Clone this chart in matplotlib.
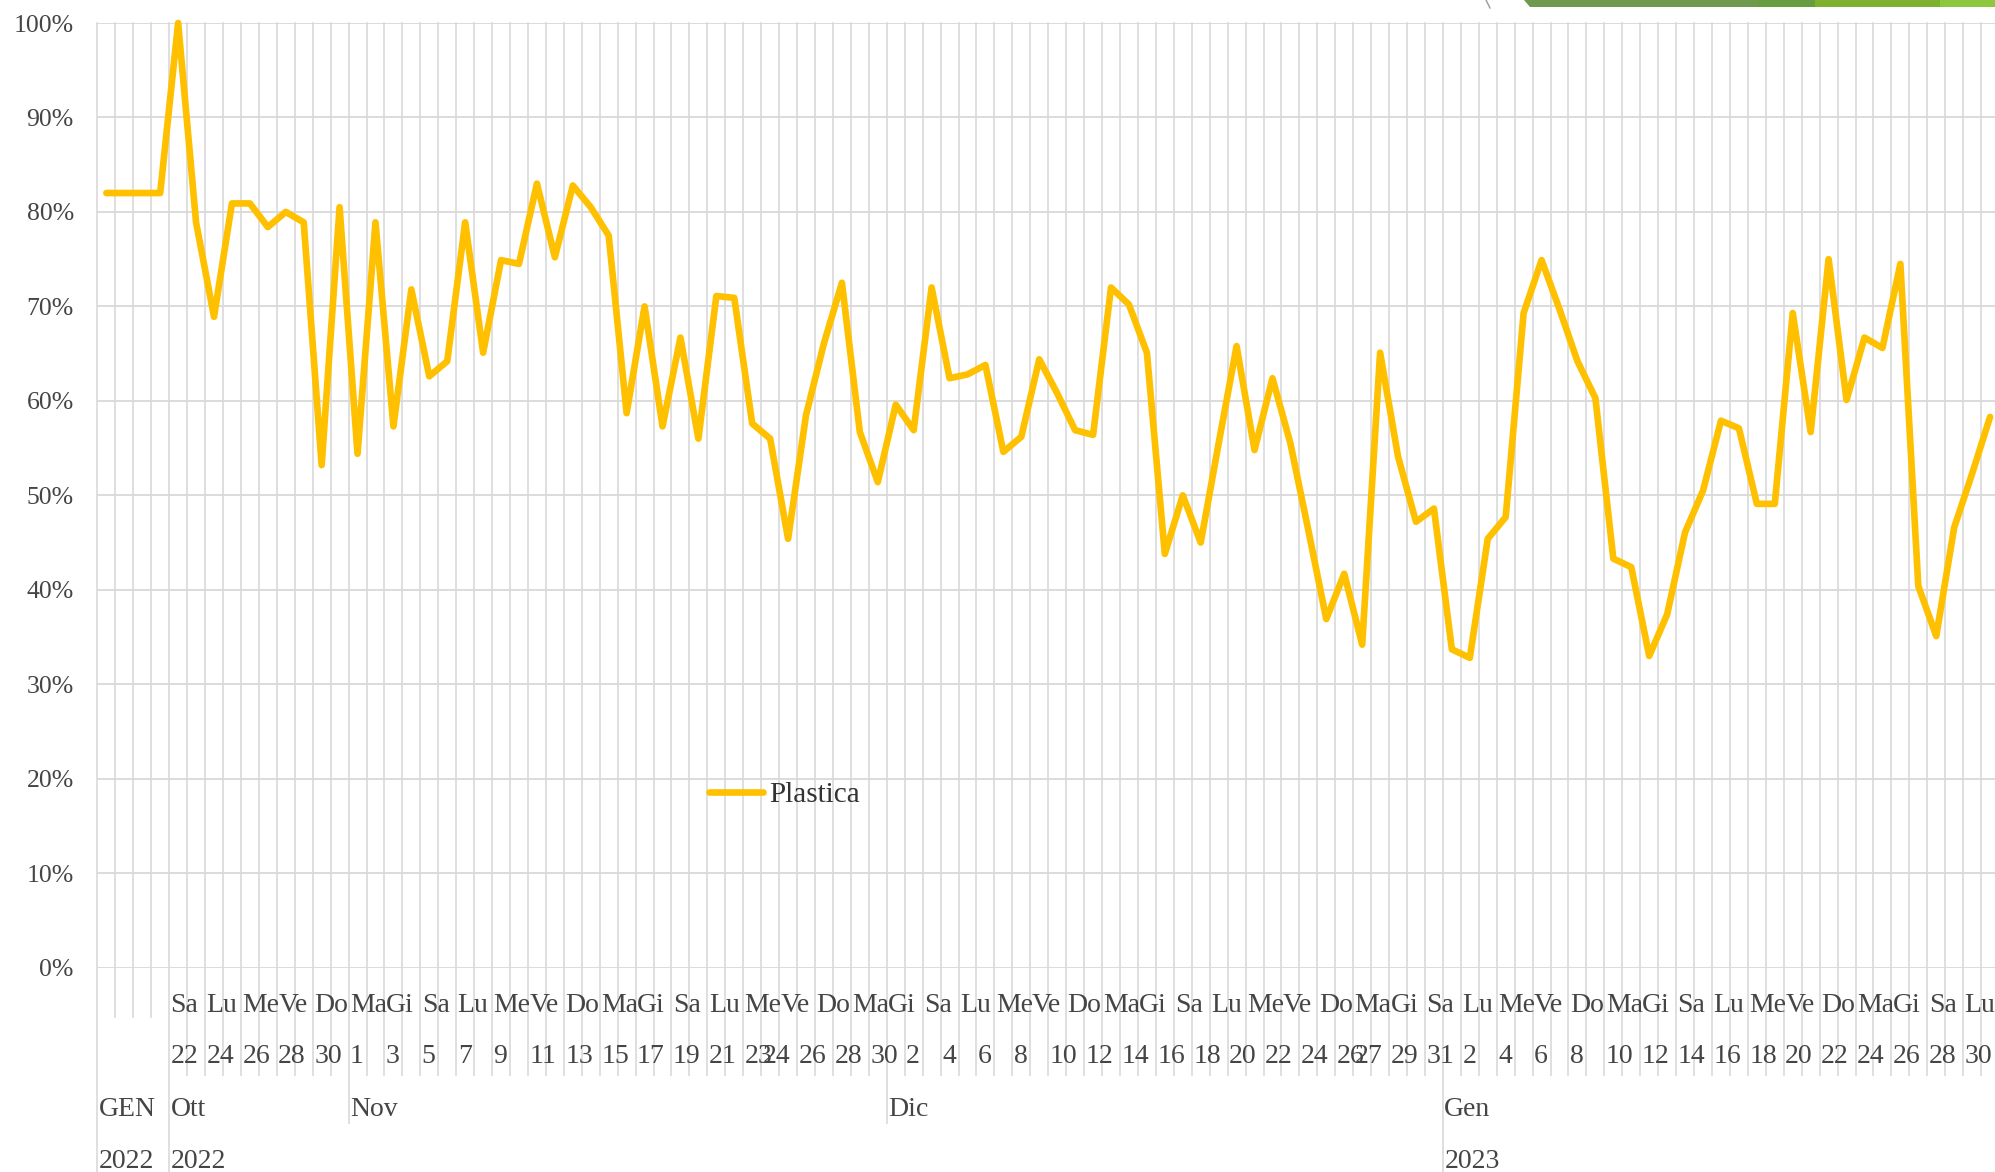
import numpy as np
import matplotlib
matplotlib.use("Agg")
import matplotlib.pyplot as plt
from matplotlib import transforms
from matplotlib.ticker import PercentFormatter
from matplotlib.patches import Polygon

# ---------------- data ----------------
series_name = "Plastica"
# one value per day (category index 0..105), in percent
plastica = [
    82.0, 82.0, 82.0, 82.0,                                   # GEN 2022
    100.0, 78.9, 68.9, 80.9, 80.9, 78.4, 80.0, 78.9, 53.2, 80.5,  # Ott 22-31
    54.4, 78.9, 57.3, 71.8, 62.6, 64.2, 78.9, 65.1, 74.9, 74.5,   # Nov 1-10
    83.0, 75.2, 82.8, 80.5, 77.5, 58.7, 70.0, 57.3, 66.7, 56.0,   # Nov 11-20
    71.1, 70.9, 57.6, 56.0, 45.4, 58.5, 66.1, 72.5, 56.7, 51.4,   # Nov 21-30
    59.6, 56.9, 72.0, 62.4, 62.8, 63.8, 54.6, 56.2, 64.4, 60.8,   # Dic 1-10
    56.9, 56.4, 72.0, 70.2, 65.1, 43.8, 50.0, 45.0, 55.5, 65.8,   # Dic 11-20
    54.8, 62.4, 55.5, 46.3, 36.9, 41.7, 34.2, 65.1, 54.1, 47.2,   # Dic 21-30
    48.6,                                                         # Dic 31
    33.7, 32.8, 45.4, 47.7, 69.3, 74.9, 69.7, 64.2, 60.3, 43.3,   # Gen 1-10
    42.4, 33.0, 37.4, 46.1, 50.5, 57.9, 57.1, 49.1, 49.1, 69.3,   # Gen 11-20
    56.7, 75.0, 60.1, 66.7, 65.6, 74.5, 40.4, 35.1, 46.6, 52.3,   # Gen 21-30
    58.3,                                                         # Gen 31
]

weekday_cats = list(range(4, 105, 2))
weekday_labels = [
    "Sa", "Lu", "Me", "Ve", "Do", "Ma", "Gi", "Sa", "Lu", "Me", "Ve", "Do", "Ma", "Gi",
    "Sa", "Lu", "Me", "Ve", "Do", "Ma", "Gi", "Sa", "Lu", "Me", "Ve", "Do", "Ma", "Gi",
    "Sa", "Lu", "Me", "Ve", "Do", "Ma", "Gi", "Sa", "Lu", "Me", "Ve", "Do", "Ma", "Gi",
    "Sa", "Lu", "Me", "Ve", "Do", "Ma", "Gi", "Sa", "Lu",
]

day_cats = (list(range(4, 37, 2)) + list(range(37, 70, 2)) +
            list(range(70, 75, 2)) + list(range(76, 105, 2)))
day_labels = [
    "22", "24", "26", "28", "30", "1", "3", "5", "7", "9", "11", "13", "15", "17", "19", "21", "23",
    "24", "26", "28", "30", "2", "4", "6", "8", "10", "12", "14", "16", "18", "20", "22", "24", "26",
    "27", "29", "31",
    "2", "4", "6", "8", "10", "12", "14", "16", "18", "20", "22", "24", "26", "28", "30",
]

month_starts = [0, 4, 14, 44, 75]
month_labels = ["GEN", "Ott", "Nov", "Dic", "Gen"]
year_starts = [0, 4, 75]
year_labels = ["2022", "2022", "2023"]

# ---------------- layout ----------------
W, H = 1995, 1172
FONT = "Liberation Serif"
TXT = "#454545"
GRID = "#D9D9D9"
LINE = "#FFC000"

fig = plt.figure(figsize=(W / 100, H / 100), dpi=100)
fig.patch.set_facecolor("white")

cat_w = 17.94
x_left = 97.4
y_top, y_zero = 23.0, 967.7
xmax = (W - x_left) / cat_w - 0.5
ax = fig.add_axes([x_left / W, 1 - y_zero / H, 1 - x_left / W, (y_zero - y_top) / H])
ax.set_xlim(-0.5, xmax)
ax.set_ylim(0, 1)
for s in ax.spines.values():
    s.set_visible(False)

# horizontal grid + y labels
ax.set_yticks(np.arange(0, 1.001, 0.1))
ax.yaxis.set_major_formatter(PercentFormatter(1.0, decimals=0))
ax.tick_params(axis="y", length=0, pad=17, labelsize=18.5, labelcolor=TXT)
for lab in ax.get_yticklabels():
    lab.set_fontfamily(FONT)
ax.yaxis.grid(True, color=GRID, lw=1.3, zorder=0)
ax.set_xticks([])

# vertical grid lines (category boundaries), extended into label area
trans = transforms.blended_transform_factory(ax.transData, fig.transFigure)
n = len(plastica)
for i in range(n):
    b = i - 0.5
    if i in (0, 4, 75):
        yend = H
    elif i in (14, 44):
        yend = 1123
    elif i in (1, 2, 3):
        yend = 1017
    else:
        yend = 1075
    ax.plot([b, b], [1 - y_top / H, 1 - yend / H], transform=trans, color=GRID,
            lw=1.2, clip_on=False, zorder=0.5)

# data line
cats = np.arange(n)
ax.plot(cats, np.array(plastica) / 100, color=LINE, lw=4.8, solid_joinstyle="round",
        solid_capstyle="round", label=series_name, zorder=3, clip_on=False)

# category labels (left aligned at category start)
def put(cat_list, labels, ybase, size=20):
    for c, t in zip(cat_list, labels):
        ax.text(c - 0.5 + 0.08, 1 - ybase / H, t, transform=trans, ha="left", va="baseline",
                fontsize=size, color=TXT, family=FONT, clip_on=False)

put(weekday_cats, weekday_labels, 1012)
put(day_cats, day_labels, 1063)
put(month_starts, month_labels, 1116)
put(year_starts, year_labels, 1168)

# legend
leg = fig.legend(loc="center left", bbox_to_anchor=(709 / W, 1 - 795 / H), frameon=False,
                 prop={"family": FONT, "size": 21}, handlelength=1.85, handletextpad=0.2,
                 borderpad=0, borderaxespad=0, labelcolor="#333333")

# slide decoration at top right
def band(x0, x1, color, slant=3):
    fig.add_artist(Polygon([[(x0 - slant) / W, 1.0], [x1 / W, 1.0], [x1 / W, 1 - 7 / H],
                            [(x0 + slant) / W, 1 - 7 / H]], closed=True, transform=fig.transFigure,
                           facecolor=color, edgecolor="none"))
band(1527, 1760, "#6F9A4E")
band(1757, 1815, "#689C40", 0)
band(1815, 1940, "#7DB12F", 0)
band(1940, W, "#8DC63F", 0)
fig.add_artist(plt.Line2D([1486 / W, 1490 / W], [1.0, 1 - 8 / H], transform=fig.transFigure,
                          color="#9A9A9A", lw=1))

fig.savefig("out.png", dpi=100, facecolor="white")
